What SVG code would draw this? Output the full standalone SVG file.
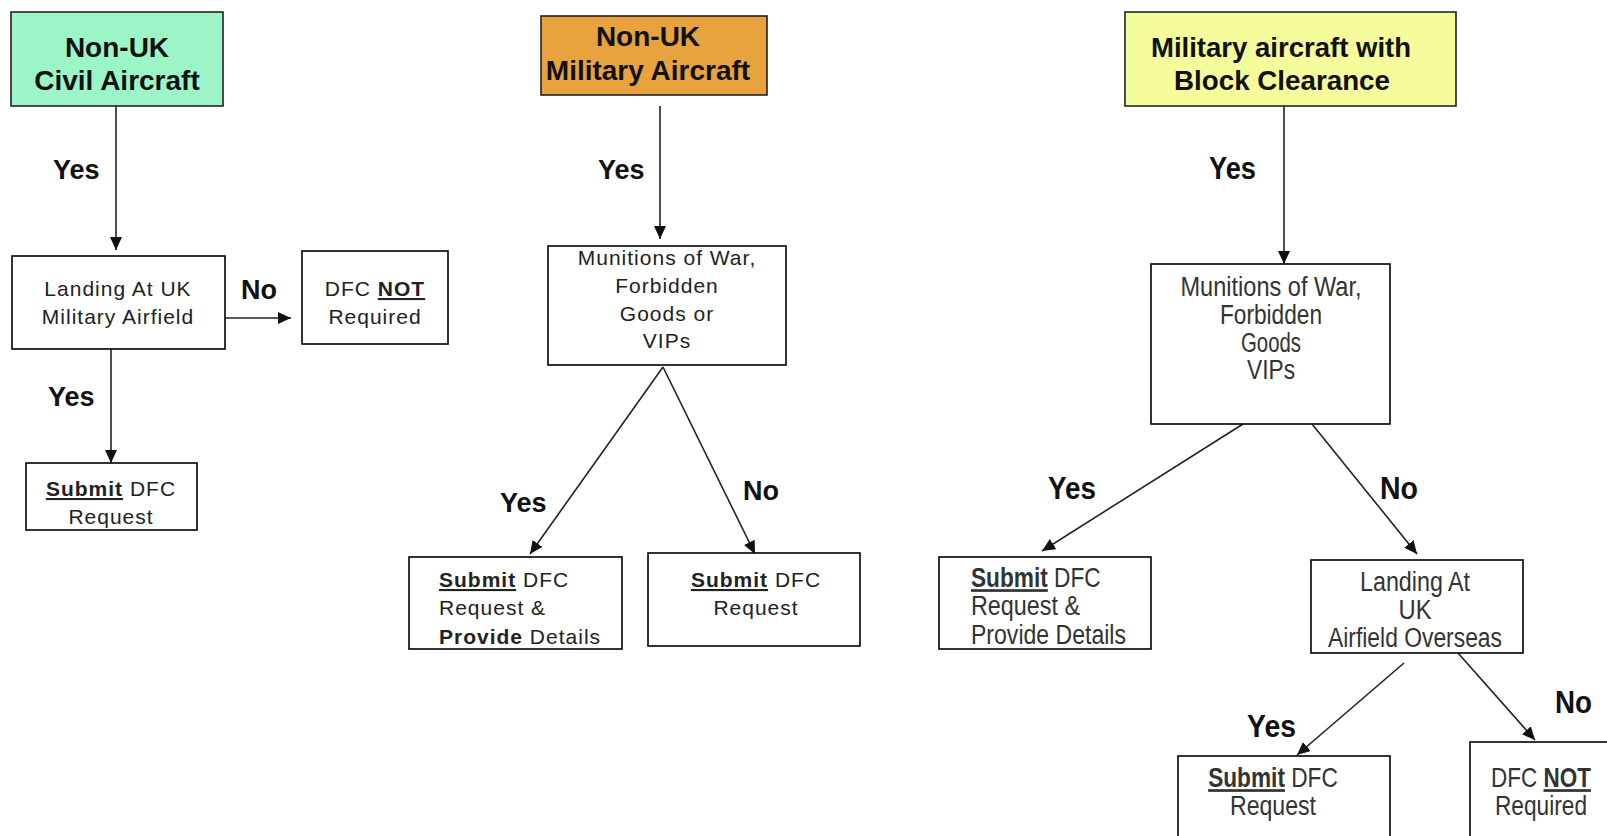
<svg xmlns="http://www.w3.org/2000/svg" width="1607" height="836" viewBox="0 0 1607 836">
<style>
.box{fill:#ffffff;stroke:#000;stroke-width:1.6}
.title{font-family:"Liberation Sans",Arial,sans-serif;font-weight:bold;font-size:28px;fill:#111;text-anchor:middle}
.titleN{font-family:"Liberation Sans",Arial,sans-serif;font-weight:bold;font-size:28.5px;fill:#111;text-anchor:middle}
.t{font-family:"Liberation Sans",Arial,sans-serif;font-size:21px;letter-spacing:1px;fill:#222;text-anchor:middle}
.tl{font-family:"Liberation Sans",Arial,sans-serif;font-size:21px;letter-spacing:1px;fill:#222}
.n{font-family:"Liberation Sans",Arial,sans-serif;font-size:27px;fill:#333;text-anchor:middle}
.nl{font-family:"Liberation Sans",Arial,sans-serif;font-size:27px;fill:#333}
.lab{font-family:"Liberation Sans",Arial,sans-serif;font-weight:bold;font-size:27px;fill:#111}
.labN{font-family:"Liberation Sans",Arial,sans-serif;font-weight:bold;font-size:32px;fill:#111}
.b{font-weight:bold}
.u{font-weight:bold;text-decoration:underline}
.conn{stroke:#222;stroke-width:1.6;fill:none;marker-end:url(#ah)}
</style>
<defs>
<marker id="ah" markerUnits="userSpaceOnUse" markerWidth="14" markerHeight="12" refX="13" refY="6" orient="auto">
<path d="M0,0 L13,6 L0,12 z" fill="#111"/>
</marker>
</defs>
<rect width="1607" height="836" fill="#ffffff"/>

<g id="connectors">
<path class="conn" d="M116,106 L116,250"/>
<path class="conn" d="M225,318 L291,318"/>
<path class="conn" d="M111,349 L111,463"/>
<path class="conn" d="M660,106 L660,239"/>
<path class="conn" d="M663,367 L530,554"/>
<path class="conn" d="M663,367 L755,554"/>
<path class="conn" d="M1284,106 L1284,264"/>
<path class="conn" d="M1243,424 L1042,551"/>
<path class="conn" d="M1312,424 L1417,554"/>
<path class="conn" d="M1404,663 L1297,755"/>
<path class="conn" d="M1458,653 L1535,740"/>
</g>

<g id="edge-labels">
<text class="lab" x="53" y="179">Yes</text>
<text class="lab" x="241" y="299">No</text>
<text class="lab" x="48" y="406">Yes</text>
<text class="lab" x="598" y="179">Yes</text>
<text class="lab" x="500" y="512">Yes</text>
<text class="lab" x="743" y="500">No</text>
<text class="labN" x="1209" y="179" textLength="47" lengthAdjust="spacingAndGlyphs">Yes</text>
<text class="labN" x="1048" y="499" textLength="48" lengthAdjust="spacingAndGlyphs">Yes</text>
<text class="labN" x="1380" y="499" textLength="38" lengthAdjust="spacingAndGlyphs">No</text>
<text class="labN" x="1247" y="737" textLength="49" lengthAdjust="spacingAndGlyphs">Yes</text>
<text class="labN" x="1555" y="713" textLength="37" lengthAdjust="spacingAndGlyphs">No</text>
</g>

<g id="civil">
<rect x="11" y="12" width="212" height="94" fill="#9cf5c6" stroke="#222" stroke-width="1.6"/>
<text class="title" x="117" y="57">Non-UK</text>
<text class="title" x="117" y="90">Civil Aircraft</text>
</g>
<g id="landing-mil">
<rect class="box" x="12" y="256" width="213" height="93"/>
<text class="t" x="118" y="296">Landing At UK</text>
<text class="t" x="118" y="324">Military Airfield</text>
</g>
<g id="dfc-not-1">
<rect class="box" x="302" y="251" width="146" height="93"/>
<text class="t" x="375" y="296">DFC <tspan class="u">NOT</tspan></text>
<text class="t" x="375" y="324">Required</text>
</g>
<g id="submit-1">
<rect class="box" x="26" y="463" width="171" height="67"/>
<text class="t" x="111" y="496"><tspan class="u">Submit</tspan> DFC</text>
<text class="t" x="111" y="524">Request</text>
</g>

<g id="military">
<rect x="541" y="16" width="226" height="79" fill="#e8a23e" stroke="#222" stroke-width="1.6"/>
<text class="title" x="648" y="46">Non-UK</text>
<text class="title" x="648" y="80">Military Aircraft</text>
</g>
<g id="munitions-1">
<rect class="box" x="548" y="246" width="238" height="119"/>
<text class="t" x="667" y="265">Munitions of War,</text>
<text class="t" x="667" y="293">Forbidden</text>
<text class="t" x="667" y="321">Goods or</text>
<text class="t" x="667" y="348">VIPs</text>
</g>
<g id="submit-provide-1">
<rect class="box" x="409" y="557" width="213" height="92"/>
<text class="tl" x="439" y="587"><tspan class="u">Submit</tspan> DFC</text>
<text class="tl" x="439" y="615">Request &amp;</text>
<text class="tl" x="439" y="644"><tspan class="b">Provide</tspan> Details</text>
</g>
<g id="submit-2">
<rect class="box" x="648" y="553" width="212" height="93"/>
<text class="t" x="756" y="587"><tspan class="u">Submit</tspan> DFC</text>
<text class="t" x="756" y="615">Request</text>
</g>

<g id="block">
<rect x="1125" y="12" width="331" height="94" fill="#f4fc9c" stroke="#222" stroke-width="1.6"/>
<text class="titleN" x="1281" y="57" textLength="260" lengthAdjust="spacingAndGlyphs">Military aircraft with</text>
<text class="titleN" x="1282" y="90" textLength="216" lengthAdjust="spacingAndGlyphs">Block Clearance</text>
</g>
<g id="munitions-2">
<rect class="box" x="1151" y="264" width="239" height="160"/>
<text class="n" x="1271" y="296" textLength="181" lengthAdjust="spacingAndGlyphs">Munitions of War,</text>
<text class="n" x="1271" y="324" textLength="102" lengthAdjust="spacingAndGlyphs">Forbidden</text>
<text class="n" x="1271" y="352" textLength="60" lengthAdjust="spacingAndGlyphs">Goods</text>
<text class="n" x="1271" y="379" textLength="48" lengthAdjust="spacingAndGlyphs">VIPs</text>
</g>
<g id="submit-provide-2">
<rect class="box" x="939" y="557" width="212" height="92"/>
<text class="nl" transform="translate(971,587) scale(0.84,1)"><tspan class="u">Submit</tspan> DFC</text>
<text class="nl" x="971" y="615" textLength="109" lengthAdjust="spacingAndGlyphs">Request &amp;</text>
<text class="nl" x="971" y="644" textLength="155" lengthAdjust="spacingAndGlyphs">Provide Details</text>
</g>
<g id="landing-overseas">
<rect class="box" x="1311" y="560" width="212" height="93"/>
<text class="n" x="1415" y="591" textLength="110" lengthAdjust="spacingAndGlyphs">Landing At</text>
<text class="n" x="1415" y="619" textLength="33" lengthAdjust="spacingAndGlyphs">UK</text>
<text class="n" x="1415" y="647" textLength="174" lengthAdjust="spacingAndGlyphs">Airfield Overseas</text>
</g>
<g id="submit-3">
<rect class="box" x="1178" y="756" width="212" height="90"/>
<text class="n" transform="translate(1273,787) scale(0.84,1)"><tspan class="u">Submit</tspan> DFC</text>
<text class="n" x="1273" y="815" textLength="86" lengthAdjust="spacingAndGlyphs">Request</text>
</g>
<g id="dfc-not-2">
<rect class="box" x="1470" y="742" width="150" height="104"/>
<text class="n" transform="translate(1541,787) scale(0.833,1)">DFC <tspan class="u">NOT</tspan></text>
<text class="n" x="1541" y="815" textLength="92" lengthAdjust="spacingAndGlyphs">Required</text>
</g>
</svg>
